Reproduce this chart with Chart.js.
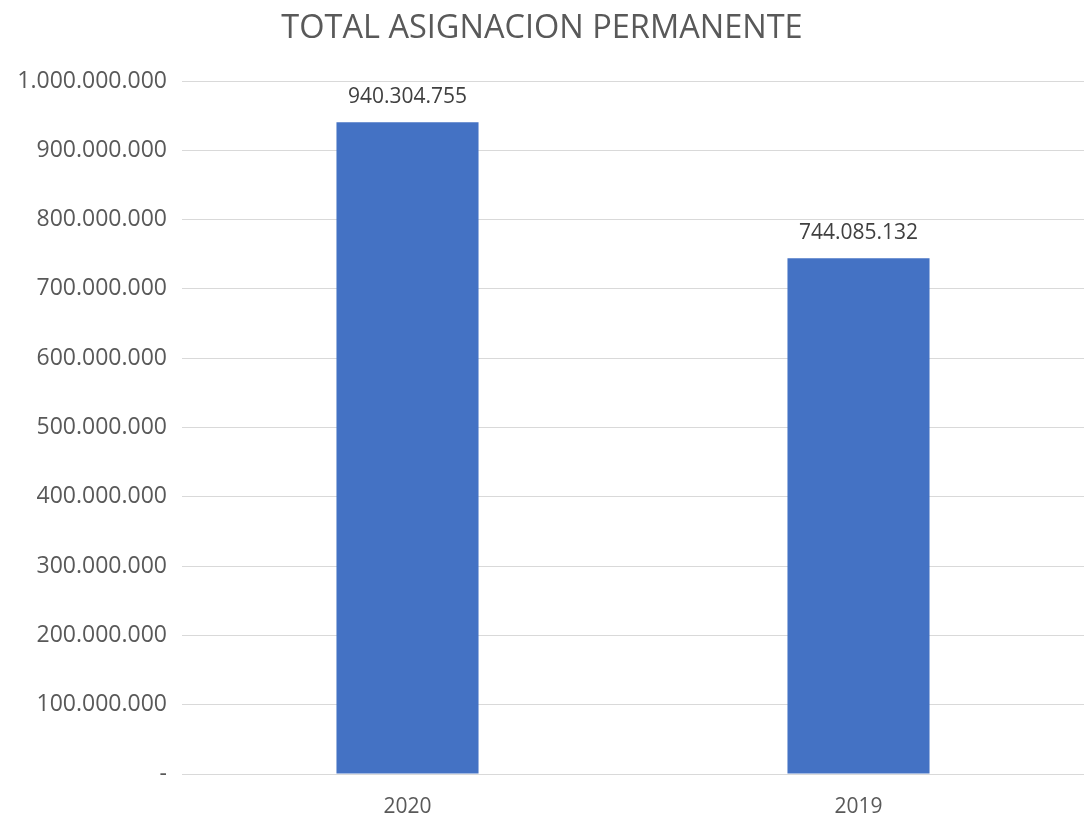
<!DOCTYPE html>
<html>
<head>
<meta charset="utf-8">
<script src="https://cdn.jsdelivr.net/npm/chart.js@4"></script>
<style>
  html, body { margin: 0; padding: 0; background: #fff; }
  #wrap { width: 1084px; height: 817px; }
</style>
</head>
<body>
<div id="wrap"><canvas id="chart"></canvas></div>
<script>
const categories = ['2020', '2019'];
const values = [940304755, 744085132];
const yTicks = [0, 100000000, 200000000, 300000000, 400000000, 500000000, 600000000, 700000000, 800000000, 900000000, 1000000000];

const FONT = '"Open Sans", Lato, sans-serif';

function fmt(v) {
    if (v === 0) return '-';
    return Math.round(v).toString().replace(/\B(?=(\d{3})+(?!\d))/g, '.');
}

// labels above bars
const barLabels = {
    id: 'barLabels',
    afterDatasetsDraw(chart) {
        const ctx = chart.ctx;
        const meta = chart.getDatasetMeta(0);
        ctx.save();
        ctx.font = '21px ' + FONT;
        ctx.fillStyle = '#404040';
        ctx.textAlign = 'center';
        ctx.textBaseline = 'middle';
        meta.data.forEach(function(bar, i) {
            ctx.fillText(fmt(values[i]), bar.x, bar.y - 25);
        });
        ctx.restore();
    }
};

const ctx = document.getElementById('chart').getContext('2d');
new Chart(ctx, {
    type: 'bar',
    data: {
        labels: categories,
        datasets: [{
            data: values,
            backgroundColor: '#4472c4',
            barPercentage: 0.315,
            categoryPercentage: 1.0
        }]
    },
    options: {
        responsive: true,
        maintainAspectRatio: false,
        animation: false,
        layout: { padding: { left: 0, right: 0, top: 9, bottom: 0 } },
        plugins: {
            legend: { display: false },
            tooltip: { enabled: false },
            title: {
                display: true,
                text: 'TOTAL ASIGNACION PERMANENTE',
                color: '#595959',
                font: { family: FONT, size: 32.5, weight: 'normal' },
                padding: { top: 0, bottom: 33 }
            }
        },
        scales: {
            y: {
                min: 0,
                max: 1000000000,
                afterBuildTicks: function(scale) {
                    scale.ticks = yTicks.map(v => ({ value: v }));
                },
                afterFit: function(scale) { scale.width = 182; },
                border: { display: false },
                grid: { color: '#d9d9d9', lineWidth: 1, drawTicks: false },
                ticks: {
                    padding: 15,
                    color: '#595959',
                    font: { family: FONT, size: 23 },
                    callback: function(v) { return fmt(v); }
                }
            },
            x: {
                afterFit: function(scale) { scale.height = 43; },
                border: { color: '#d9d9d9' },
                grid: { display: false },
                ticks: {
                    padding: 12,
                    color: '#595959',
                    font: { family: FONT, size: 21 }
                }
            }
        }
    },
    plugins: [barLabels]
});
</script>
</body>
</html>
